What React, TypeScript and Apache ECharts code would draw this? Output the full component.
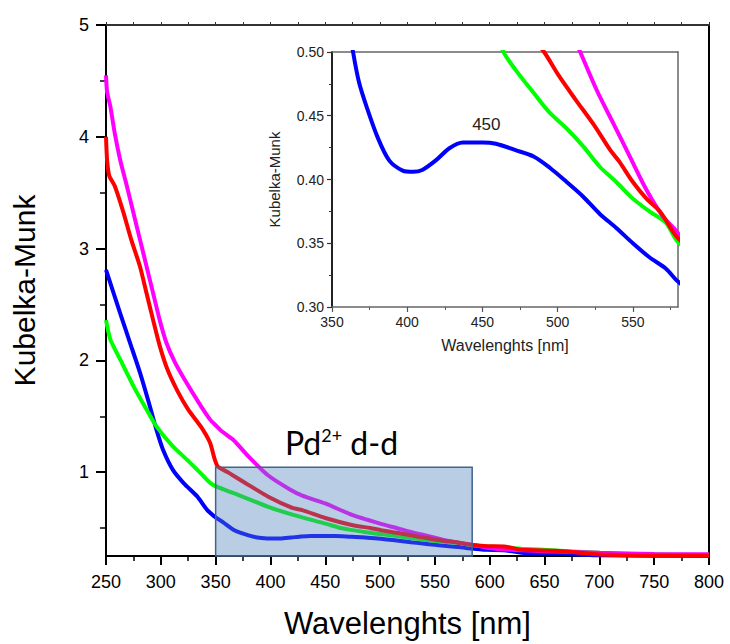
import React, { useEffect, useRef } from 'react';
import * as echarts from 'echarts';

// ---- data (wavelength in nm, Kubelka-Munk value) ----
const magentaWl = [250, 251, 254, 258, 263, 269, 275, 281, 287, 293, 299, 305, 313, 324, 336, 345, 351, 355, 366, 381, 398, 417, 429, 450, 475, 500, 515, 526, 537, 548, 559, 570, 580, 600, 620, 650, 700, 750, 800];
const magentaKm = [4.55, 4.4, 4.27, 4.03, 3.79, 3.56, 3.32, 3.08, 2.84, 2.6, 2.36, 2.16, 1.98, 1.79, 1.6, 1.47, 1.41, 1.37, 1.29, 1.13, 0.97, 0.85, 0.79, 0.72, 0.615, 0.54, 0.5, 0.47, 0.444, 0.418, 0.392, 0.371, 0.358, 0.322, 0.305, 0.293, 0.278, 0.268, 0.266];

const redWl = [250, 251, 253, 258, 266, 273, 281, 287, 293, 299, 306, 315, 325, 337, 345, 349, 352, 361, 376, 398, 420, 429, 450, 475, 491, 501, 512, 524, 535, 541, 550, 559, 568, 580, 598, 613, 629, 660, 675, 700, 737, 800];
const redKm = [4.0, 3.79, 3.65, 3.56, 3.32, 3.08, 2.84, 2.6, 2.36, 2.13, 1.92, 1.73, 1.56, 1.4, 1.26, 1.12, 1.05, 1.0, 0.91, 0.78, 0.68, 0.66, 0.59, 0.525, 0.5, 0.481, 0.4625, 0.443, 0.423, 0.414, 0.398, 0.385, 0.375, 0.354, 0.338, 0.336, 0.306, 0.297, 0.286, 0.263, 0.254, 0.252];

const blueWl = [250, 257, 264, 272, 281, 290, 296, 302, 311, 321, 333, 342, 350, 355, 364, 368, 373, 380, 388, 397, 404, 410, 419, 428, 437, 450, 459, 472, 484, 495, 506, 517, 528, 539, 550, 561, 572, 580, 598, 613, 629, 660, 700, 750, 800];
const blueKm = [2.81, 2.6, 2.39, 2.155, 1.89, 1.59, 1.38, 1.2, 1.02, 0.9, 0.785, 0.665, 0.595, 0.565, 0.5, 0.476, 0.457, 0.434, 0.415, 0.407, 0.406, 0.4075, 0.415, 0.4245, 0.429, 0.429, 0.428, 0.423, 0.418, 0.409, 0.398, 0.3865, 0.373, 0.362, 0.35, 0.339, 0.33, 0.32, 0.305, 0.302, 0.28, 0.272, 0.256, 0.252, 0.251];

const greenWl = [250, 254, 263, 275, 287, 296, 311, 324, 336, 345, 351, 367, 398, 420, 450, 464, 472, 484, 495, 506, 517, 528, 539, 550, 561, 572, 580, 598, 629, 660, 700, 737, 800];
const greenKm = [2.36, 2.185, 2.006, 1.77, 1.56, 1.41, 1.23, 1.11, 0.994, 0.904, 0.87, 0.81, 0.69, 0.62, 0.54, 0.5, 0.486, 0.468, 0.452, 0.44, 0.426, 0.41, 0.398, 0.385, 0.375, 0.366, 0.351, 0.336, 0.315, 0.3, 0.278, 0.265, 0.258];

// main axes
const mainXRange = [250, 800];
const mainYRange = [0.25, 5];
const mainYTicks = [1, 2, 3, 4, 5];
const mainYMinorTicks = [0.5, 1.5, 2.5, 3.5, 4.5];

// inset axes
const insetXRange = [350, 580];
const insetXTicks = [350, 400, 450, 500, 550];
const insetXMinorTicks = [375, 425, 475, 525, 575];
const insetYRange = [0.3, 0.5];

// highlighted d-d band: [wl start, wl end, km bottom, km top]
const bandBox = [350, 584, 0.25, 1.044];
// inset annotation
const peakLabel = { wl: 452.6, km: 0.4434, text: '450' };

const pairs = (wl: number[], km: number[]) => wl.map((w, i) => [w, km[i]]);

const FONT = "'Liberation Sans', Arial, sans-serif";

const curves = [
  { name: 'blue', color: '#0000FF', wl: blueWl, km: blueKm },
  { name: 'green', color: '#00FF00', wl: greenWl, km: greenKm },
  { name: 'magenta', color: '#FF00FF', wl: magentaWl, km: magentaKm },
  { name: 'red', color: '#FF0000', wl: redWl, km: redKm },
];

export default function App() {
  const ref = useRef<HTMLDivElement>(null);
  useEffect(() => {
    const chart = echarts.init(ref.current!, null, { renderer: 'svg' });

    const mainSeries = curves.map((c) => ({
      type: 'line',
      name: c.name,
      xAxisIndex: 0,
      yAxisIndex: 0,
      data: pairs(c.wl, c.km),
      showSymbol: false,
      symbol: 'none',
      smooth: 0.2,
      lineStyle: { color: c.color, width: 4 },
      z: 2,
    }));

    const insetSeries = curves.map((c) => ({
      type: 'line',
      name: c.name + '-inset',
      xAxisIndex: 2,
      yAxisIndex: 3,
      data: pairs(c.wl, c.km),
      showSymbol: false,
      symbol: 'none',
      smooth: 0.3,
      clip: true,
      lineStyle: { color: c.color, width: 4 },
      z: 3,
      markPoint:
        c.name === 'blue'
          ? {
              symbol: 'circle',
              symbolSize: 1,
              itemStyle: { color: 'rgba(0,0,0,0)' },
              label: {
                show: true,
                position: 'inside',
                formatter: peakLabel.text,
                color: '#222',
                fontSize: 17,
                fontFamily: FONT,
              },
              data: [{ coord: [peakLabel.wl, peakLabel.km] }],
            }
          : undefined,
    }));

    const boxSeries = {
      type: 'custom',
      xAxisIndex: 0,
      yAxisIndex: 0,
      z: 5,
      clip: false,
      data: [bandBox],
      renderItem: (params: any, api: any) => {
        const p0 = api.coord([api.value(0), api.value(3)]);
        const p1 = api.coord([api.value(1), api.value(2)]);
        return {
          type: 'rect',
          shape: { x: p0[0], y: p0[1], width: p1[0] - p0[0], height: p1[1] - p0[1] },
          style: { fill: 'rgba(79,129,189,0.4)', stroke: '#41648C', lineWidth: 1.5 },
        };
      },
    };

    const option: any = {
      animation: false,
      backgroundColor: '#fff',
      grid: [
        { left: 106, top: 25, width: 603, height: 532 },
        { left: 332, top: 52, width: 346, height: 255 },
      ],
      xAxis: [
        {
          type: 'value', gridIndex: 0, position: 'bottom',
          min: mainXRange[0], max: mainXRange[1], interval: 50,
          axisLine: { show: true, onZero: false, lineStyle: { color: '#000', width: 2 } },
          axisTick: { show: true, length: 9, lineStyle: { color: '#000', width: 2 } },
          minorTick: { show: true, splitNumber: 2, length: 5, lineStyle: { color: '#000', width: 1.5 } },
          splitLine: { show: false },
          axisLabel: { fontSize: 18, color: '#000', fontFamily: FONT, margin: 17 },
          name: 'Wavelenghts [nm]', nameLocation: 'middle', nameGap: 52,
          nameTextStyle: { fontSize: 31, color: '#000', fontFamily: FONT },
        },
        {
          type: 'value', gridIndex: 0, position: 'top',
          min: mainXRange[0], max: mainXRange[1], interval: 25,
          axisLine: { show: true, onZero: false, lineStyle: { color: '#333', width: 2 } },
          axisTick: { show: true, length: 3, lineStyle: { color: '#333', width: 1 } },
          splitLine: { show: false },
          axisLabel: { show: false },
        },
        {
          type: 'value', gridIndex: 1, position: 'bottom',
          min: insetXRange[0], max: insetXRange[1],
          axisLine: { show: true, onZero: false, lineStyle: { color: '#666', width: 1.5 } },
          axisTick: { show: true, length: 5, customValues: insetXTicks, lineStyle: { color: '#555', width: 1.2 } },
          splitLine: { show: false },
          axisLabel: { customValues: insetXTicks, fontSize: 14, color: '#222', fontFamily: FONT, margin: 8 },
          name: 'Wavelenghts [nm]', nameLocation: 'middle', nameGap: 30,
          nameTextStyle: { fontSize: 16, color: '#222', fontFamily: FONT },
        },
        {
          type: 'value', gridIndex: 1, position: 'bottom',
          min: insetXRange[0], max: insetXRange[1],
          axisLine: { show: false },
          axisTick: { show: true, length: 3, customValues: insetXMinorTicks, lineStyle: { color: '#555', width: 1 } },
          splitLine: { show: false },
          axisLabel: { show: false },
        },
        {
          type: 'value', gridIndex: 1, position: 'top',
          min: insetXRange[0], max: insetXRange[1],
          axisLine: { show: true, onZero: false, lineStyle: { color: '#666', width: 1.5 } },
          axisTick: { show: false },
          splitLine: { show: false },
          axisLabel: { show: false },
        },
      ],
      yAxis: [
        {
          type: 'value', gridIndex: 0, position: 'left',
          min: mainYRange[0], max: mainYRange[1],
          axisLine: { show: true, onZero: false, lineStyle: { color: '#000', width: 2 } },
          axisTick: { show: true, length: 10, customValues: mainYTicks, lineStyle: { color: '#000', width: 2 } },
          splitLine: { show: false },
          axisLabel: { customValues: mainYTicks, fontSize: 18, color: '#000', fontFamily: FONT, margin: 17 },
          name: 'Kubelka-Munk', nameLocation: 'middle', nameGap: 67, nameRotate: 90,
          nameTextStyle: { fontSize: 30, color: '#000', fontFamily: FONT },
        },
        {
          type: 'value', gridIndex: 0, position: 'left',
          min: mainYRange[0], max: mainYRange[1],
          axisLine: { show: false },
          axisTick: { show: true, length: 6, customValues: mainYMinorTicks, lineStyle: { color: '#000', width: 1.5 } },
          splitLine: { show: false },
          axisLabel: { show: false },
        },
        {
          type: 'value', gridIndex: 0, position: 'right',
          min: mainYRange[0], max: mainYRange[1],
          axisLine: { show: true, onZero: false, lineStyle: { color: '#000', width: 2 } },
          axisTick: { show: false },
          splitLine: { show: false },
          axisLabel: { show: false },
        },
        {
          type: 'value', gridIndex: 1, position: 'left',
          min: insetYRange[0], max: insetYRange[1], interval: 0.05,
          axisLine: { show: true, onZero: false, lineStyle: { color: '#222', width: 2 } },
          axisTick: { show: true, length: 5, lineStyle: { color: '#333', width: 1.2 } },
          minorTick: { show: true, splitNumber: 2, length: 3, lineStyle: { color: '#333', width: 1 } },
          splitLine: { show: false },
          axisLabel: {
            fontSize: 14, color: '#222', fontFamily: FONT, margin: 8,
            formatter: (v: number) => v.toFixed(2),
          },
          name: 'Kubelka-Munk', nameLocation: 'middle', nameGap: 50, nameRotate: 90,
          nameTextStyle: { fontSize: 15, color: '#222', fontFamily: FONT },
        },
        {
          type: 'value', gridIndex: 1, position: 'right',
          min: insetYRange[0], max: insetYRange[1],
          axisLine: { show: true, onZero: false, lineStyle: { color: '#666', width: 1.5 } },
          axisTick: { show: false },
          splitLine: { show: false },
          axisLabel: { show: false },
        },
      ],
      graphic: [
        {
          type: 'text',
          left: 285,
          top: 426,
          silent: true,
          style: {
            text: '{a|Pd}{b|2+}{a| d-d}',
            rich: {
              a: { fontSize: 32, fontFamily: 'Lato, sans-serif', fill: '#000', color: '#000' },
              b: { fontSize: 18, fontFamily: 'Lato, sans-serif', verticalAlign: 'top', fill: '#000', color: '#000' },
            },
          },
        },
      ],
      series: [...mainSeries, boxSeries, ...insetSeries],
    };

    chart.setOption(option);
    return () => chart.dispose();
  }, []);

  return (
    <div
      ref={ref}
      style={{ position: 'fixed', left: 0, top: 0, width: 730, height: 644, background: '#fff' }}
    />
  );
}
